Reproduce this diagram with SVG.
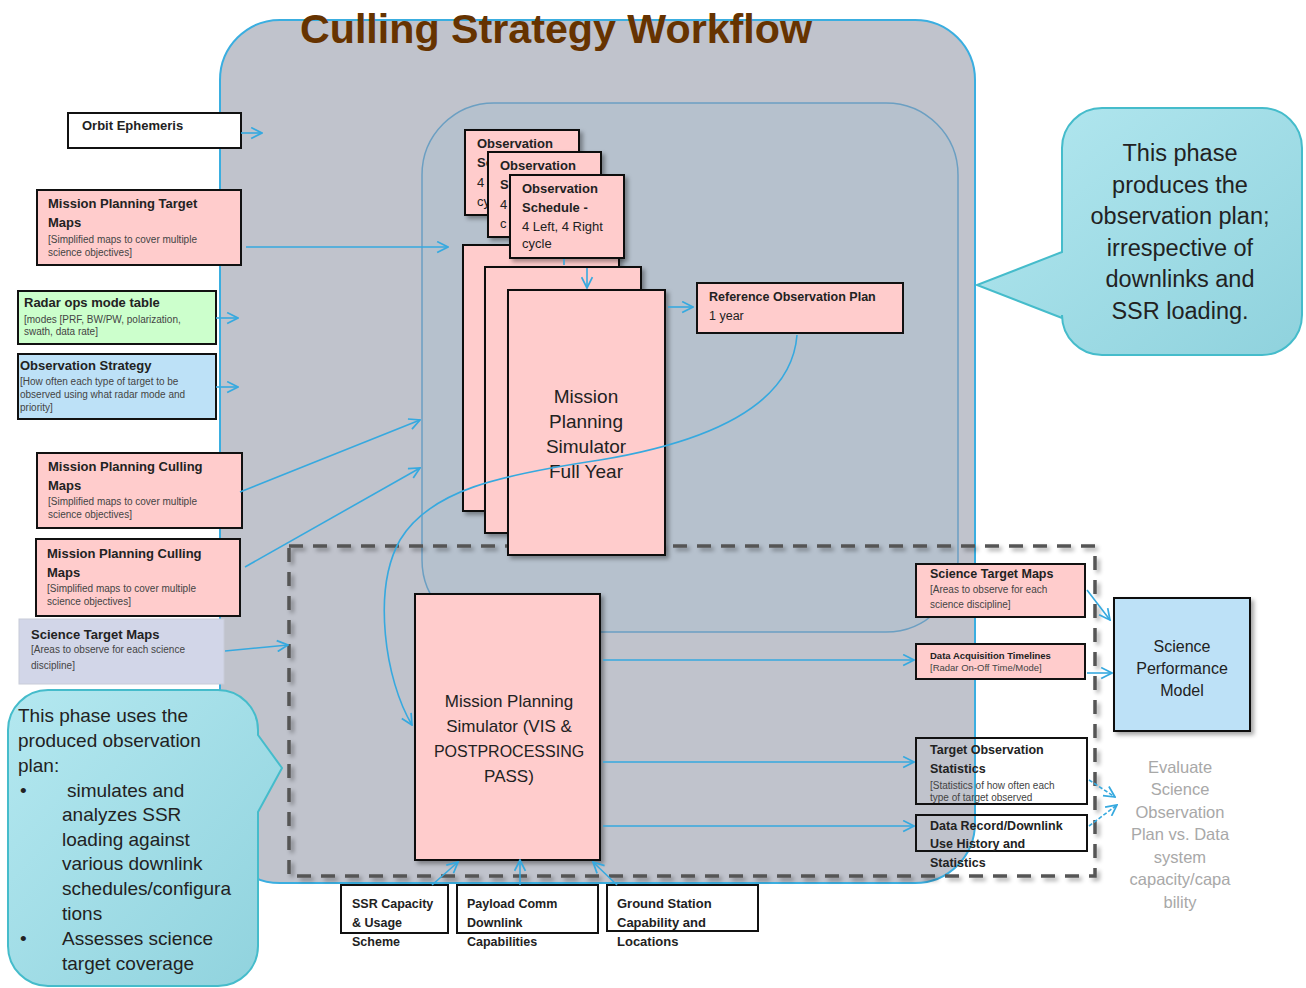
<svg xmlns="http://www.w3.org/2000/svg" width="1306" height="988" viewBox="0 0 1306 988">
<defs>
<style>
.t{font-family:"Liberation Sans",Arial,sans-serif;fill:#222}
.s{font-size:10px;fill:#444}
.h{font-size:13px;font-weight:bold}
.box{stroke:#111;stroke-width:2}
.pink{fill:#ffcccc}
.cn{fill:none;stroke:#36a9df;stroke-width:1.6}
.big{font-size:17px;text-anchor:middle}
.bt{font-size:13px;font-weight:bold}
.nt{font-size:13px}
.bb{font-size:12.5px;font-weight:bold}
.ev{font-size:16.5px;text-anchor:middle;fill:#a8a8a8}
</style>
<marker id="ah" viewBox="0 0 12 12" refX="11" refY="6" markerWidth="13" markerHeight="13" markerUnits="userSpaceOnUse" orient="auto">
<path d="M1,1 L11,6 L1,11" fill="none" stroke="#36a9df" stroke-width="1.6"/>
</marker>
<filter id="sh" x="-10%" y="-10%" width="130%" height="130%">
<feDropShadow dx="3" dy="3" stdDeviation="2" flood-color="#000" flood-opacity="0.35"/>
</filter>
<linearGradient id="cg" x1="0" y1="0" x2="1" y2="1">
<stop offset="0" stop-color="#b4e8f0"/>
<stop offset="1" stop-color="#8fd2dd"/>
</linearGradient>
<clipPath id="c1"><rect x="465" y="130" width="23" height="85"/></clipPath>
<clipPath id="c2"><rect x="488" y="152" width="22" height="85"/></clipPath>
</defs>
<rect width="1306" height="988" fill="#fff"/>

<g id="outer">
<rect x="220" y="20" width="755" height="863" rx="60" fill="#c0c3cc" stroke="#3aaee0" stroke-width="2"/>
</g>
<g id="inner">
<rect x="422" y="103" width="536" height="529" rx="72" fill="#b6c1cd" stroke="#6b9fc2" stroke-width="1.5"/>
</g>
<g id="title">
<text x="300" y="43" class="t" style="font-size:40px;font-weight:900;fill:#663300" textLength="512" lengthAdjust="spacingAndGlyphs">Culling Strategy Workflow</text>
</g>
<g id="phase2">
<rect x="289" y="546" width="806" height="330" fill="none" stroke="#555" stroke-width="3.5" stroke-dasharray="14 10" filter="url(#sh)"/>
</g>

<g id="orbit">
<rect x="68" y="113" width="173" height="35" fill="#fff" class="box"/>
<text x="82" y="130" class="t h">Orbit Ephemeris</text>
</g>
<g id="mpTarget">
<rect x="37" y="190" width="204" height="75" class="box pink"/>
<text x="48" y="208" class="t h">Mission Planning  Target</text>
<text x="48" y="227" class="t h">Maps</text>
<text x="48" y="243" class="t s">[Simplified maps to cover multiple</text>
<text x="48" y="256" class="t s">science objectives]</text>
</g>
<g id="radar">
<rect x="18" y="291" width="198" height="53" fill="#ccffcc" class="box"/>
<text x="24" y="307" class="t h">Radar ops mode table</text>
<text x="24" y="323" class="t s">[modes [PRF, BW/PW,  polarization,</text>
<text x="24" y="335" class="t s">swath,  data rate]</text>
</g>
<g id="obsStrategy">
<rect x="18" y="354" width="198" height="65" fill="#bde1f7" class="box"/>
<text x="20" y="370" class="t h">Observation Strategy</text>
<text x="20" y="385" class="t s">[How often each type of target to be</text>
<text x="20" y="398" class="t s">observed using what radar mode and</text>
<text x="20" y="411" class="t s">priority]</text>
</g>
<g id="mpCulling1">
<rect x="37" y="453" width="205" height="75" class="box pink"/>
<text x="48" y="471" class="t h">Mission Planning  Culling</text>
<text x="48" y="490" class="t h">Maps</text>
<text x="48" y="505" class="t s">[Simplified maps to cover multiple</text>
<text x="48" y="518" class="t s">science objectives]</text>
</g>
<g id="mpCulling2">
<rect x="36" y="539" width="204" height="77" class="box pink"/>
<text x="47" y="558" class="t h">Mission Planning  Culling</text>
<text x="47" y="577" class="t h">Maps</text>
<text x="47" y="592" class="t s">[Simplified maps to cover multiple</text>
<text x="47" y="605" class="t s">science objectives]</text>
</g>
<g id="sciTargetLeft">
<rect x="19" y="619" width="205" height="65" fill="#d2d6e8" stroke="#c8ccd8" stroke-width="1"/>
<text x="31" y="639" class="t h">Science  Target Maps</text>
<text x="31" y="653" class="t s">[Areas to observe for each science</text>
<text x="31" y="669" class="t s">discipline]</text>
</g>

<g id="mpsFull">
<rect x="463" y="245" width="156" height="266" class="box pink" filter="url(#sh)"/>
<rect x="485" y="267" width="156" height="266" class="box pink" filter="url(#sh)"/>
<rect x="508" y="290" width="157" height="265" class="box pink" filter="url(#sh)"/>
<text x="586" y="403" class="t big" style="font-size:19px">Mission</text>
<text x="586" y="428" class="t big" style="font-size:19px">Planning</text>
<text x="586" y="453" class="t big" style="font-size:19px">Simulator</text>
<text x="586" y="478" class="t big" style="font-size:19px">Full Year</text>
</g>

<g id="schedules">
<g id="sched1">
<rect x="465" y="130" width="114" height="85" class="box pink" filter="url(#sh)"/>
<text x="477" y="148" class="t bt">Observation</text>
<g clip-path="url(#c1)">
<text x="477" y="167" class="t bt">Sc</text>
<text x="477" y="187" class="t nt">4</text>
<text x="477" y="206" class="t nt">cy</text>
</g>
</g>
<g id="sched2">
<rect x="488" y="152" width="113" height="85" class="box pink" filter="url(#sh)"/>
<text x="500" y="170" class="t bt">Observation</text>
<g clip-path="url(#c2)">
<text x="500" y="189" class="t bt">Sc</text>
<text x="500" y="209" class="t nt">4</text>
<text x="500" y="228" class="t nt">c</text>
</g>
</g>
<g id="sched3">
<rect x="510" y="175" width="114" height="83" class="box pink" filter="url(#sh)"/>
<text x="522" y="193" class="t bt">Observation</text>
<text x="522" y="212" class="t bt">Schedule  -</text>
<text x="522" y="231" class="t nt">4 Left, 4 Right</text>
<text x="522" y="248" class="t nt">cycle</text>
</g>
</g>

<g id="refPlan">
<rect x="697" y="283" width="206" height="50" class="box pink"/>
<text x="709" y="301" class="t" style="font-size:12.5px;font-weight:bold">Reference Observation Plan</text>
<text x="709" y="320" class="t" style="font-size:12.5px">1 year</text>
</g>

<g id="mpsVis">
<rect x="415" y="594" width="185" height="266" class="box pink" filter="url(#sh)"/>
<text x="509" y="707" class="t big">Mission Planning</text>
<text x="509" y="732" class="t big">Simulator (VIS &amp;</text>
<text x="509" y="757" class="t big" style="font-size:16px">POSTPROCESSING</text>
<text x="509" y="782" class="t big">PASS)</text>
</g>

<g id="sciTargetRight">
<rect x="916" y="564" width="169" height="53" class="box pink"/>
<text x="930" y="578" class="t" style="font-size:12.5px;font-weight:bold">Science  Target Maps</text>
<text x="930" y="593" class="t s">[Areas to observe for each</text>
<text x="930" y="608" class="t s">science discipline]</text>
</g>
<g id="dat">
<rect x="916" y="644" width="169" height="35" class="box pink"/>
<text x="930" y="659" class="t" style="font-size:9.5px;font-weight:bold">Data Acquisition  Timelines</text>
<text x="930" y="671" class="t s" style="font-size:9.5px">[Radar On-Off Time/Mode]</text>
</g>
<g id="tos">
<rect x="916" y="738" width="171" height="66" fill="none" class="box"/>
<text x="930" y="754" class="t" style="font-size:12.5px;font-weight:bold">Target Observation</text>
<text x="930" y="773" class="t" style="font-size:12.5px;font-weight:bold">Statistics</text>
<text x="930" y="789" class="t s">[Statistics of how often each</text>
<text x="930" y="801" class="t s">type of target observed</text>
</g>
<g id="drd">
<rect x="916" y="815" width="171" height="36" fill="none" class="box"/>
<text x="930" y="830" class="t" style="font-size:12.5px;font-weight:bold">Data Record/Downlink</text>
<text x="930" y="848" class="t" style="font-size:12.5px;font-weight:bold">Use History and</text>
<text x="930" y="867" class="t" style="font-size:12.5px;font-weight:bold">Statistics</text>
</g>

<g id="spm">
<rect x="1114" y="598" width="136" height="133" fill="#bde1f7" class="box" filter="url(#sh)"/>
<text x="1182" y="652" class="t" style="font-size:16px;text-anchor:middle">Science</text>
<text x="1182" y="674" class="t" style="font-size:16px;text-anchor:middle">Performance</text>
<text x="1182" y="696" class="t" style="font-size:16px;text-anchor:middle">Model</text>
</g>
<g id="evaluate">
<text x="1180" y="773" class="t ev">Evaluate</text>
<text x="1180" y="795" class="t ev">Science</text>
<text x="1180" y="818" class="t ev">Observation</text>
<text x="1180" y="840" class="t ev">Plan vs. Data</text>
<text x="1180" y="863" class="t ev">system</text>
<text x="1180" y="885" class="t ev">capacity/capa</text>
<text x="1180" y="908" class="t ev">bility</text>
</g>

<g id="ssr">
<rect x="341" y="885" width="107" height="48" fill="#fff" class="box"/>
<text x="352" y="908" class="t bb">SSR Capacity</text>
<text x="352" y="927" class="t bb">&amp; Usage</text>
<text x="352" y="946" class="t bb">Scheme</text>
</g>
<g id="payload">
<rect x="457" y="885" width="141" height="48" fill="#fff" class="box"/>
<text x="467" y="908" class="t bb">Payload Comm</text>
<text x="467" y="927" class="t bb">Downlink</text>
<text x="467" y="946" class="t bb">Capabilities</text>
</g>
<g id="ground">
<rect x="607" y="885" width="151" height="46" fill="#fff" class="box"/>
<text x="617" y="908" class="t bb" style="font-size:13px">Ground Station</text>
<text x="617" y="927" class="t bb" style="font-size:13px">Capability and</text>
<text x="617" y="946" class="t bb" style="font-size:13px">Locations</text>
</g>

<g id="calloutTop">
<path d="M1102,108 H1262 A40,40 0 0 1 1302,148 V315 A40,40 0 0 1 1262,355 H1102 A40,40 0 0 1 1062,315 V318 L977,285 L1062,252 V148 A40,40 0 0 1 1102,108 Z" fill="url(#cg)" stroke="#45bccb" stroke-width="2"/>
<g class="t" style="font-size:23.5px;text-anchor:middle">
<text x="1180" y="161">This phase</text>
<text x="1180" y="193">produces the</text>
<text x="1180" y="224">observation plan;</text>
<text x="1180" y="256">irrespective of</text>
<text x="1180" y="287">downlinks  and</text>
<text x="1180" y="319">SSR loading.</text>
</g>
</g>
<g id="calloutBottom">
<path d="M48,690 H218 A40,40 0 0 1 258,730 V735 L282,768 L258,812 V946 A40,40 0 0 1 218,986 H48 A40,40 0 0 1 8,946 V730 A40,40 0 0 1 48,690 Z" fill="url(#cg)" stroke="#45bccb" stroke-width="2"/>
<g class="t" style="font-size:19px">
<text x="18" y="722">This phase uses  the</text>
<text x="18" y="747">produced observation</text>
<text x="18" y="772">plan:</text>
<text x="20" y="797">•</text>
<text x="67" y="797">simulates and</text>
<text x="62" y="821">analyzes SSR</text>
<text x="62" y="846">loading against</text>
<text x="62" y="870">various downlink</text>
<text x="62" y="895">schedules/configura</text>
<text x="62" y="920">tions</text>
<text x="20" y="945">•</text>
<text x="62" y="945">Assesses  science</text>
<text x="62" y="970">target coverage</text>
</g>
</g>

<g id="connectors">
<line x1="241" y1="133" x2="262" y2="133" class="cn" marker-end="url(#ah)"/>
<line x1="246" y1="247" x2="448" y2="247" class="cn" marker-end="url(#ah)"/>
<line x1="216" y1="318" x2="238" y2="318" class="cn" marker-end="url(#ah)"/>
<line x1="216" y1="387" x2="238" y2="387" class="cn" marker-end="url(#ah)"/>
<line x1="240" y1="492" x2="420" y2="420" class="cn" marker-end="url(#ah)"/>
<line x1="245" y1="567" x2="420" y2="468" class="cn" marker-end="url(#ah)"/>
<line x1="225" y1="651" x2="288" y2="645" class="cn" marker-end="url(#ah)"/>
<line x1="564" y1="259" x2="564" y2="265" class="cn"/>
<line x1="587" y1="268" x2="587" y2="288" class="cn" marker-end="url(#ah)"/>
<line x1="668" y1="307" x2="693" y2="307" class="cn" marker-end="url(#ah)"/>
<path d="M797,335 C792,400 720,440 600,460 C500,475 430,490 400,540 C372,590 385,680 412,725" class="cn" marker-end="url(#ah)"/>
<line x1="603" y1="660" x2="914" y2="660" class="cn" marker-end="url(#ah)"/>
<line x1="603" y1="762" x2="914" y2="762" class="cn" marker-end="url(#ah)"/>
<line x1="603" y1="826" x2="914" y2="826" class="cn" marker-end="url(#ah)"/>
<line x1="1087" y1="590" x2="1110" y2="620" class="cn" marker-end="url(#ah)"/>
<line x1="1087" y1="673" x2="1112" y2="673" class="cn" marker-end="url(#ah)"/>
<line x1="1089" y1="780" x2="1115" y2="797" class="cn" stroke-dasharray="4 2" marker-end="url(#ah)"/>
<line x1="1089" y1="826" x2="1117" y2="805" class="cn" stroke-dasharray="4 2" marker-end="url(#ah)"/>
<line x1="432" y1="885" x2="458" y2="862" class="cn" marker-end="url(#ah)"/>
<line x1="520" y1="885" x2="520" y2="860" class="cn" marker-end="url(#ah)"/>
<line x1="617" y1="885" x2="593" y2="862" class="cn" marker-end="url(#ah)"/>
</g>
</svg>
